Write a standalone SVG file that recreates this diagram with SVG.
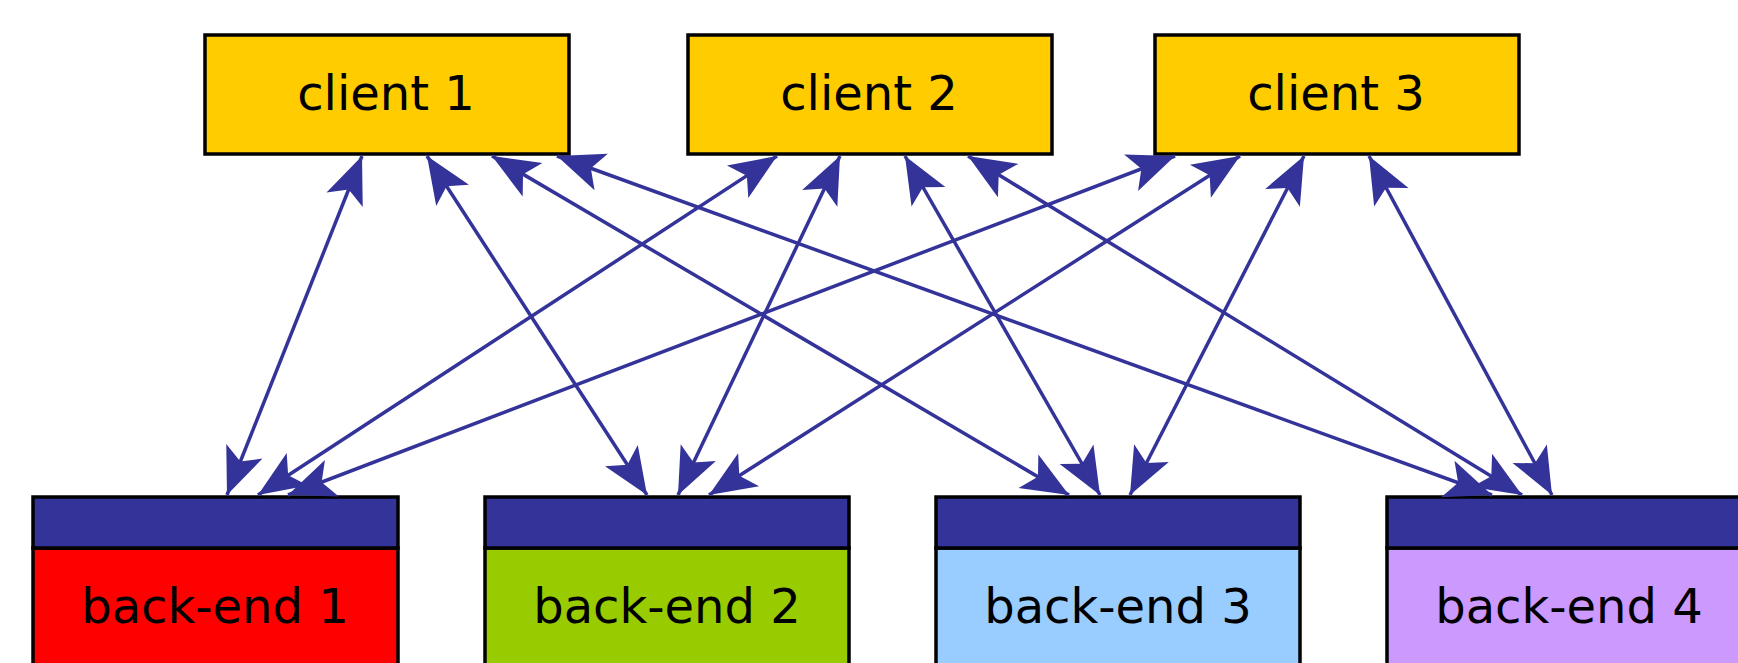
<svg xmlns="http://www.w3.org/2000/svg" width="1738" height="663" viewBox="0 0 1738 663">
<style>
.client rect{fill:#ffcc00;stroke:#000;stroke-width:3.5}
.be rect{stroke:#000;stroke-width:3.5}
.be .hdr{fill:#333399}
text{font-family:"DejaVu Sans","Liberation Sans",sans-serif;font-size:48px;fill:#000;text-anchor:middle}
#connectors line{stroke:#333399;stroke-width:3.5;marker-start:url(#ah);marker-end:url(#ah)}
</style>
<defs>
<marker id="ah" markerUnits="userSpaceOnUse" viewBox="-55 -25 60 50" markerWidth="60" markerHeight="50" refX="0" refY="0" orient="auto-start-reverse">
<path d="M0,0 L-47,-19.5 L-36,0 L-47,19.5 Z" fill="#333399"/>
</marker>
</defs>
<rect width="1738" height="663" fill="#fff"/>
<g id="backend1" class="be">
<rect x="33" y="548" width="365" height="140" fill="#ff0000"/>
<rect class="hdr" x="33" y="497" width="365" height="51"/>
<text x="215" y="623">back-end 1</text>
</g>
<g id="backend2" class="be">
<rect x="485" y="548" width="364" height="140" fill="#99cc00"/>
<rect class="hdr" x="485" y="497" width="364" height="51"/>
<text x="667" y="623">back-end 2</text>
</g>
<g id="backend3" class="be">
<rect x="936" y="548" width="364" height="140" fill="#99ccff"/>
<rect class="hdr" x="936" y="497" width="364" height="51"/>
<text x="1118" y="623">back-end 3</text>
</g>
<g id="backend4" class="be">
<rect x="1387" y="548" width="364" height="140" fill="#cc99ff"/>
<rect class="hdr" x="1387" y="497" width="364" height="51"/>
<text x="1569" y="623">back-end 4</text>
</g>
<g id="client1" class="client">
<rect x="205" y="35" width="364" height="119"/>
<text x="386" y="110">client 1</text>
</g>
<g id="client2" class="client">
<rect x="688" y="35" width="364" height="119"/>
<text x="869" y="110">client 2</text>
</g>
<g id="client3" class="client">
<rect x="1155" y="35" width="364" height="119"/>
<text x="1336" y="110">client 3</text>
</g>
<g id="connectors">
<line x1="362" y1="156" x2="227" y2="495"/>
<line x1="427" y1="156" x2="647" y2="495"/>
<line x1="492" y1="156" x2="1069" y2="495"/>
<line x1="557" y1="156" x2="1492" y2="495"/>
<line x1="777" y1="156" x2="258" y2="495"/>
<line x1="840" y1="156" x2="678" y2="495"/>
<line x1="905" y1="156" x2="1100" y2="495"/>
<line x1="968" y1="156" x2="1522" y2="495"/>
<line x1="1175" y1="156" x2="288" y2="495"/>
<line x1="1240" y1="156" x2="709" y2="495"/>
<line x1="1304" y1="156" x2="1130" y2="495"/>
<line x1="1369" y1="156" x2="1552" y2="495"/>
</g>
</svg>
